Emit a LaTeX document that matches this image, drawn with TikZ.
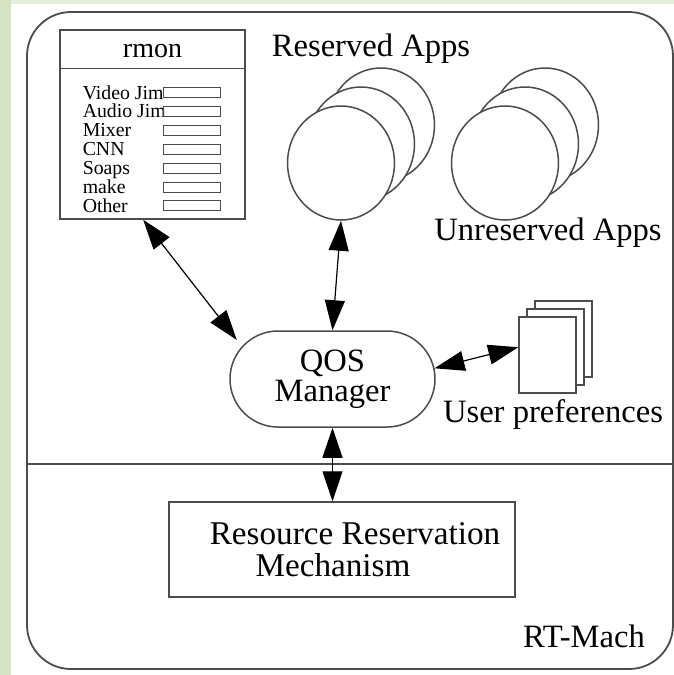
\documentclass[tikz,border=0pt]{standalone}
\usepackage{fontspec}
\setmainfont{Liberation Serif}
\usetikzlibrary{arrows.meta,shapes.geometric,shapes.misc,calc}
\definecolor{leafgreen}{HTML}{D5E3C3}
\definecolor{palegreen}{HTML}{E6EEDC}

\begin{document}
\begin{tikzpicture}[x=.5pt, y=-.5pt, line width=.75pt,
    big/.style={font=\fontsize{16.3}{15}\selectfont},
    app/.style={ellipse, draw=black!70, fill=white, minimum width=53.5pt, minimum height=57pt, inner sep=0pt},
    page/.style={rectangle, draw=black!70, fill=white, minimum width=28.5pt, minimum height=38pt, inner sep=0pt},
    link/.style={black, line width=.6pt, >={Triangle[length=15pt,width=10pt]}, <->}]
  \fill[white] (0,0) rectangle (674,675);
  \fill[leafgreen] (0,0) rectangle (11,675);
  \fill[palegreen] (11,0) rectangle (674,4);
  \useasboundingbox (0,0) rectangle (674,675);
  % outer frame and kernel line
  \draw[black!70, line width=.9pt, rounded corners=22pt] (27,12) rectangle (673,669);
  \draw[black!70] (27,464) -- (673,464);
  % rmon window
  \node[draw=black!70, minimum width=92.5pt, minimum height=94.5pt, inner sep=0pt] (rmon) at (152.5,124.5) {};
  \draw[black!70] (rmon.north west) ++(0,39) -- ++(185,0);
  \node[anchor=base, font=\fontsize{14}{14}\selectfont] (rmontitle) at (152.5,57) {rmon};
  \foreach \app [count=\i from 0] in {Video Jim,Audio Jim,Mixer,CNN,Soaps,make,Other} {
    \node[anchor=base west, inner sep=0pt, font=\fontsize{9.9}{9.9}\selectfont] (app\i) at (82,99+18.9*\i) {\app};
    \draw[black!70, line width=.5pt] (163,87.5+18.9*\i) rectangle ++(57,10);
  }
  % applications
  \foreach \k/\d in {3/38,2/19,1/0} {
    \node[app] (res\k) at (341+\d*20/19,163-\d) {};
    \node[app] (unres\k) at (505+\d*20/19,163-\d) {};
  }
  \node[big, anchor=base] (reslbl) at (371,56) {Reserved Apps};
  \node[big, anchor=base] (unreslbl) at (548,240) {Unreserved Apps};
  % manager
  \node[rounded rectangle, draw=black!70, minimum width=102.5pt, minimum height=48pt, inner sep=0pt, align=center, big] (qos) at (332.5,379) {QOS\\Manager};
  \foreach \k/\d in {3/16,2/8,1/0}
    \node[page] (pref\k) at (547.5+\d,355-\d) {};
  \node[big, anchor=base] (preflbl) at (553,422) {User preferences};
  \node[draw=black!70, minimum width=173pt, minimum height=47.5pt, align=center, font=\fontsize{16.6}{16}\selectfont] (rrm) at (342,549.5) {\hspace*{13pt}Resource Reservation\\Mechanism\hspace*{9pt}};
  \node[big, anchor=base] (rtmach) at (584,647) {RT-Mach};
  % connectors
  \draw[link] ($(rmon.south west)!.45!(rmon.south east)$) -- ([xshift=-6pt]qos.155);
  \draw[link] (res1.south) -- (qos.north);
  \draw[link] (qos.6) -- ($(pref1.north west)!.4!(pref1.south west)$);
  \draw[link] (qos.south) -- (qos.south |- rrm.north);
\end{tikzpicture}
\end{document}
